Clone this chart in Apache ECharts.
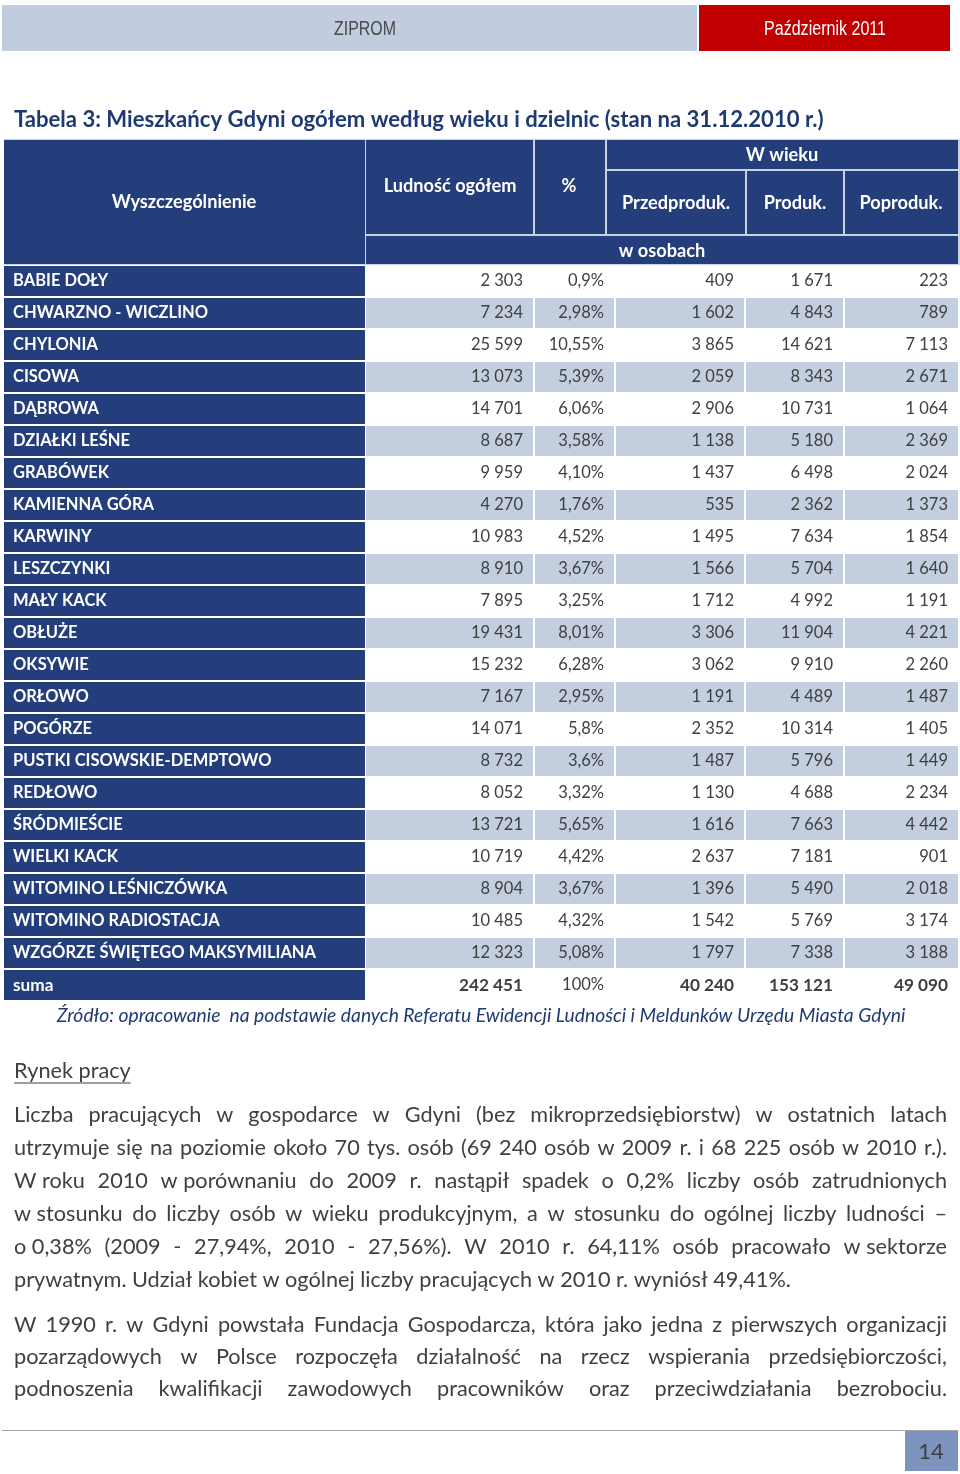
<!DOCTYPE html>
<html><head><meta charset="utf-8">
<script src="https://cdn.jsdelivr.net/npm/echarts@6/dist/echarts.min.js"></script>
<style>html,body{margin:0;padding:0;background:#fff}#c{width:960px;height:1474px}</style>
</head><body><div id="c"></div>
<script>
// ---------------- DATA ----------------
const districts = ['BABIE DOŁY','CHWARZNO - WICZLINO','CHYLONIA','CISOWA','DĄBROWA','DZIAŁKI LEŚNE','GRABÓWEK','KAMIENNA GÓRA','KARWINY','LESZCZYNKI','MAŁY KACK','OBŁUŻE','OKSYWIE','ORŁOWO','POGÓRZE','PUSTKI CISOWSKIE-DEMPTOWO','REDŁOWO','ŚRÓDMIEŚCIE','WIELKI KACK','WITOMINO LEŚNICZÓWKA','WITOMINO RADIOSTACJA','WZGÓRZE ŚWIĘTEGO MAKSYMILIANA'];
const population = [2303,7234,25599,13073,14701,8687,9959,4270,10983,8910,7895,19431,15232,7167,14071,8732,8052,13721,10719,8904,10485,12323];
const shareLabels = ['0,9','2,98','10,55','5,39','6,06','3,58','4,10','1,76','4,52','3,67','3,25','8,01','6,28','2,95','5,8','3,6','3,32','5,65','4,42','3,67','4,32','5,08'];
const preWorking = [409,1602,3865,2059,2906,1138,1437,535,1495,1566,1712,3306,3062,1191,2352,1487,1130,1616,2637,1396,1542,1797];
const working = [1671,4843,14621,8343,10731,5180,6498,2362,7634,5704,4992,11904,9910,4489,10314,5796,4688,7663,7181,5490,5769,7338];
const postWorking = [223,789,7113,2671,1064,2369,2024,1373,1854,1640,1191,4221,2260,1487,1405,1449,2234,4442,901,2018,3174,3188];
const sumLabel = 'suma';
const sumPopulation = 242451;
const sumShare = '100';
const sumPre = 40240;
const sumWorking = 153121;
const sumPost = 49090;

const headerTexts = ['Wyszczególnienie','Ludność ogółem','%','W wieku','Przedproduk.','Produk.','Poproduk.','w osobach'];
const pageHeaderLeft = 'ZIPROM';
const pageHeaderRight = 'Październik 2011';
const titleText = 'Tabela 3: Mieszkańcy Gdyni ogółem według wieku i dzielnic (stan na 31.12.2010 r.)';
const sourceText = 'Źródło: opracowanie  na podstawie danych Referatu Ewidencji Ludności i Meldunków Urzędu Miasta Gdyni';
const sectionText = 'Rynek pracy';
const para1 = [
  'Liczba pracujących w gospodarce w Gdyni (bez mikroprzedsiębiorstw) w ostatnich latach',
  'utrzymuje się na poziomie około 70 tys. osób (69 240 osób w 2009 r. i 68 225 osób w 2010 r.).',
  'W\u00a0roku 2010 w\u00a0porównaniu do 2009 r. nastąpił spadek o 0,2% liczby osób zatrudnionych',
  'w\u00a0stosunku do liczby osób w wieku produkcyjnym, a w stosunku do ogólnej liczby ludności –',
  'o\u00a00,38% (2009 - 27,94%, 2010 - 27,56%). W 2010 r. 64,11% osób pracowało w\u00a0sektorze',
  'prywatnym. Udział kobiet w ogólnej liczby pracujących w 2010 r. wyniósł 49,41%.'
];
const para2 = [
  'W 1990 r. w Gdyni powstała Fundacja Gospodarcza, która jako jedna z pierwszych organizacji',
  'pozarządowych w Polsce rozpoczęła działalność na rzecz wspierania przedsiębiorczości,',
  'podnoszenia kwalifikacji zawodowych pracowników oraz przeciwdziałania bezrobociu.'
];
const pageNumber = '14';

// ---------------- STYLE / LAYOUT ----------------
const NAVY = '#233E7A', STRIPE = '#C3CEDF', TXT = '#404040', DARKBLUE = '#1F3A72';
const FAM = 'Lato, "Open Sans", sans-serif';
const SANS = '"Liberation Sans", Arial, sans-serif';
const ctx = document.createElement('canvas').getContext('2d');
function fit(text, style, family, target) {
  ctx.font = style + ' 100px ' + family;
  return Math.round(target / ctx.measureText(text).width * 1000) / 10;
}
function measure(text, font) { ctx.font = font; return ctx.measureText(text).width; }
const tableSize = fit('CHWARZNO - WICZLINO', 'bold', FAM, 195);
const BOLDF = 'bold ' + tableSize + 'px ' + FAM;
const REGF = tableSize + 'px ' + FAM;
const headSize = fit('Przedproduk.', 'bold', FAM, 108);
const HEADF = 'bold ' + headSize + 'px ' + FAM;
const SUMF = 'bold ' + fit('242 451', 'bold', FAM, 64) + 'px ' + FAM;
const titleF = 'bold ' + fit(titleText, 'bold', FAM, 808) + 'px ' + FAM;
const srcF = 'italic ' + fit(sourceText, 'italic', FAM, 848) + 'px ' + FAM;
const bodyF = fit(para1[5], '', FAM, 777) + 'px ' + FAM;
const topF = '20px ' + SANS;
const zipScale = 62 / measure(pageHeaderLeft, topF);
const octScale = 122 / measure(pageHeaderRight, topF);

const colEdges = [4, 366, 535, 616, 746, 845, 960];
const rowNames = districts.concat([sumLabel]);
const fmt = n => String(n).replace(/\B(?=(\d{3})+(?!\d))/g, ' ');
const cols = [
  rowNames,
  population.map(fmt).concat([fmt(sumPopulation)]),
  shareLabels.map(s => s + '%').concat([sumShare + '%']),
  preWorking.map(fmt).concat([fmt(sumPre)]),
  working.map(fmt).concat([fmt(sumWorking)]),
  postWorking.map(fmt).concat([fmt(sumPost)])
];
const cellData = [];
rowNames.forEach((_, r) => { for (let c = 0; c < 6; c++) cellData.push([c, r]); });

function txt(x, y, text, font, fill, align, extra) {
  const o = { type: 'text', x: x, y: y, silent: true,
    style: { text: text, font: font, fill: fill, align: align || 'left', textAlign: align || 'left',
      verticalAlign: 'middle', textVerticalAlign: 'middle' } };
  return Object.assign(o, extra || {});
}
function rect(x, y, w, h, fill) {
  return { type: 'rect', shape: { x: x, y: y, width: w, height: h }, style: { fill: fill }, silent: true };
}

const els = [];
// page header
els.push(rect(2, 5, 695, 46, '#C1CCDE'));
els.push(rect(699, 5, 251, 46, '#C00000'));
els.push(txt(365, 29, pageHeaderLeft, topF, '#4A4A4A', 'center', { scaleX: zipScale }));
els.push(txt(825, 29, pageHeaderRight, topF, '#FFFFFF', 'center', { scaleX: octScale }));
// title
els.push(txt(14, 120, titleText, titleF, DARKBLUE, 'left'));
// table header
els.push(rect(4, 139, 956, 126, '#C9D2E5'));
const hE = [4, 366, 535, 607, 747, 845, 960];
els.push(rect(hE[0], 140, hE[1] - hE[0] - 1, 124, NAVY));
els.push(rect(hE[1], 140, hE[2] - hE[1] - 2, 94, NAVY));
els.push(rect(hE[2], 140, hE[3] - hE[2] - 2, 94, NAVY));
els.push(rect(hE[3], 140, hE[6] - hE[3] - 2, 29, NAVY));
els.push(rect(hE[3], 171, hE[4] - hE[3] - 2, 63, NAVY));
els.push(rect(hE[4], 171, hE[5] - hE[4] - 2, 63, NAVY));
els.push(rect(hE[5], 171, hE[6] - hE[5] - 2, 63, NAVY));
els.push(rect(hE[1], 236, hE[6] - hE[1] - 2, 28, NAVY));
els.push(txt(184, 202, headerTexts[0], HEADF, '#fff', 'center'));
els.push(txt(450, 186, headerTexts[1], HEADF, '#fff', 'center'));
els.push(txt(569, 186, headerTexts[2], HEADF, '#fff', 'center'));
els.push(txt(782, 155, headerTexts[3], HEADF, '#fff', 'center'));
els.push(txt(676, 203, headerTexts[4], HEADF, '#fff', 'center'));
els.push(txt(795, 203, headerTexts[5], HEADF, '#fff', 'center'));
els.push(txt(901, 203, headerTexts[6], HEADF, '#fff', 'center'));
els.push(txt(662, 251, headerTexts[7], HEADF, '#fff', 'center'));
// source
els.push(txt(481, 1016, sourceText, srcF, DARKBLUE, 'center'));
// section heading
const secW = measure(sectionText, bodyF);
els.push(txt(14, 1071, sectionText, bodyF, TXT, 'left'));
els.push({ type: 'line', shape: { x1: 14, y1: 1083, x2: 14 + secW, y2: 1083 }, style: { stroke: TXT, lineWidth: 1.2 }, silent: true });
// paragraphs (justified)
const L = 14, R = 947;
function line(text, y, justify) {
  const tokens = text.split(' ').filter(Boolean).map(t => t.replace(/\u00a0/g, ' '));
  const w = tokens.map(t => measure(t, bodyF));
  const tot = w.reduce((a, b) => a + b, 0);
  const gap = justify && tokens.length > 1 ? (R - L - tot) / (tokens.length - 1) : measure(' ', bodyF);
  let x = L;
  tokens.forEach((t, i) => { els.push(txt(x, y, t, bodyF, TXT, 'left')); x += w[i] + gap; });
}
para1.forEach((t, i) => line(t, 1115 + i * 33, i < para1.length - 1));
para2.forEach((t, i) => line(t, 1325 + i * 32, true));
// footer
els.push({ type: 'line', shape: { x1: 2, y1: 1430.5, x2: 958, y2: 1430.5 }, style: { stroke: '#A6A6A6', lineWidth: 1 }, silent: true });
els.push(rect(905, 1431, 53, 40, '#7D95BE'));
els.push(txt(931, 1452, pageNumber, '22px ' + FAM, TXT, 'center'));

const chart = echarts.init(document.getElementById('c'), null, { renderer: 'canvas' });
chart.setOption({
  animation: false,
  backgroundColor: '#fff',
  grid: { left: 4, right: 0, top: 265, height: 736, containLabel: false },
  xAxis: { type: 'value', min: 0, max: 5, show: false },
  yAxis: { type: 'category', data: rowNames, inverse: true, show: false },
  series: [{
    type: 'custom',
    encode: { x: 0, y: 1 },
    data: cellData,
    renderItem: function (params, api) {
      const c = api.value(0), r = api.value(1);
      const h = api.size([0, 1])[1];
      const yc = api.coord([0, r])[1];
      const x0 = colEdges[c], x1 = colEdges[c + 1];
      const fill = c === 0 ? NAVY : (r % 2 === 1 ? STRIPE : '#FFFFFF');
      const isSum = r === rowNames.length - 1;
      let font = c === 0 ? BOLDF : REGF;
      if (isSum) font = c === 2 ? REGF : SUMF;
      const label = cols[c][r];
      const tx = c === 0 ? x0 + 9 : x1 - 2 - 10;
      return {
        type: 'group',
        children: [
          { type: 'rect', shape: { x: x0, y: yc - h / 2 + 1, width: x1 - x0 - (c === 0 ? 1 : 2), height: h - 2 }, style: { fill: fill } },
          { type: 'text', style: { text: label, x: tx, y: yc, font: font, fill: c === 0 ? '#FFFFFF' : TXT,
              align: c === 0 ? 'left' : 'right', textAlign: c === 0 ? 'left' : 'right', verticalAlign: 'middle', textVerticalAlign: 'middle' } }
        ]
      };
    }
  }],
  graphic: { elements: els }
});
</script>
</body></html>
